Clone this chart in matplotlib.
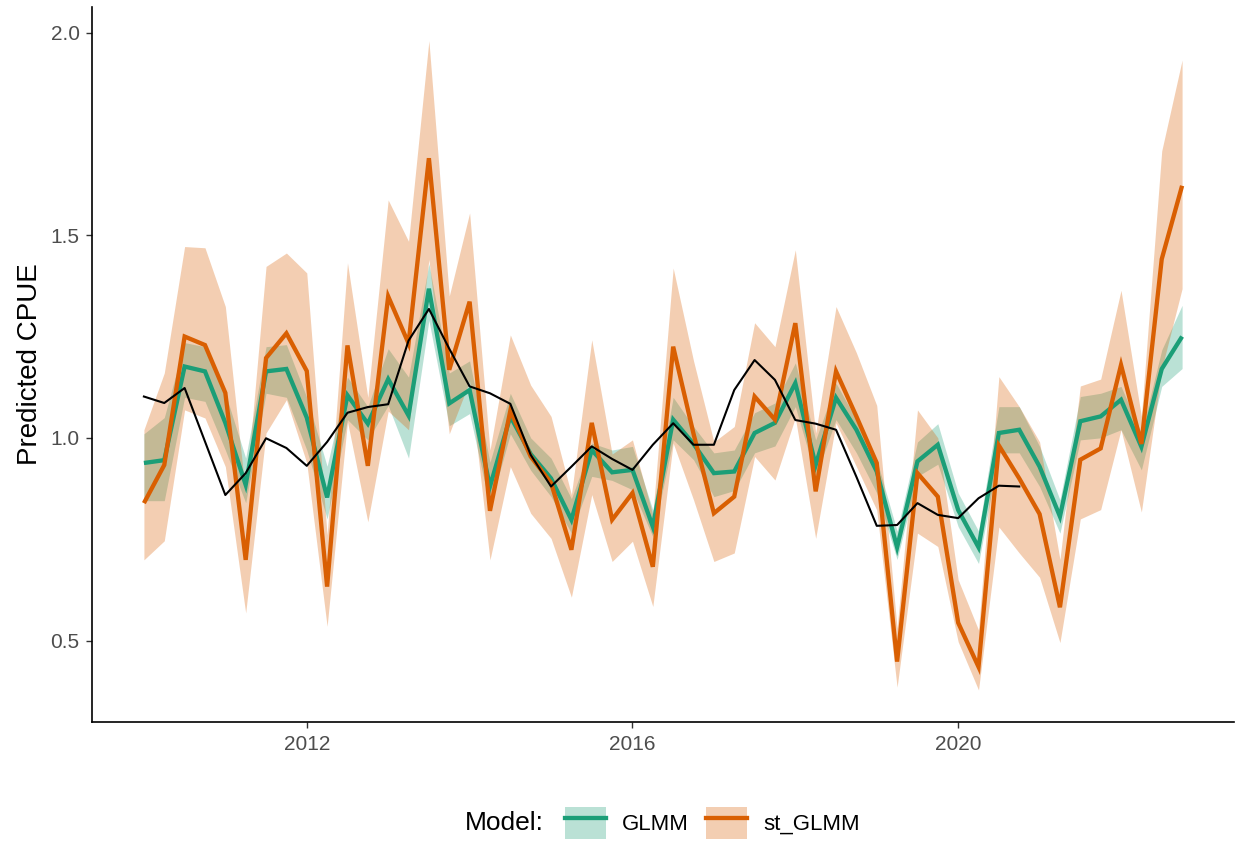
import numpy as np
import matplotlib
matplotlib.use("Agg")
import matplotlib.pyplot as plt
from matplotlib.patches import Patch
from matplotlib.lines import Line2D

plt.rcParams['font.family'] = ['Liberation Sans', 'DejaVu Sans']

# quarterly time stamps 2010 Q1 .. 2022 Q4
years = 2010 + np.arange(52) / 4.0

glmm = [0.938, 0.945, 1.176, 1.164, 1.037, 0.884, 1.164, 1.170, 1.05, 0.853,
        1.105, 1.035, 1.145, 1.055, 1.368, 1.085, 1.118, 0.88, 1.053, 0.96,
        0.90, 0.798, 0.97, 0.915, 0.921, 0.781, 1.045, 0.985, 0.913, 0.917,
        1.012, 1.037, 1.135, 0.933, 1.099, 1.02, 0.917, 0.73, 0.942, 0.983,
        0.822, 0.73, 1.012, 1.02, 0.929, 0.806, 1.041, 1.053, 1.094, 0.978,
        1.17, 1.25]
glmm_lo = [0.845, 0.845, 1.10, 1.09, 0.97, 0.84, 1.11, 1.10, 0.97, 0.80,
           1.045, 0.995, 1.08, 0.95, 1.29, 1.03, 1.06, 0.83, 1.01, 0.92,
           0.855, 0.765, 0.905, 0.895, 0.872, 0.756, 0.995, 0.946, 0.855, 0.87,
           0.963, 0.98, 1.077, 0.905, 1.045, 0.963, 0.864, 0.70, 0.905, 0.935,
           0.781, 0.69, 0.963, 0.963, 0.88, 0.765, 0.995, 1.00, 1.02, 0.921,
           1.127, 1.171]
glmm_hi = [1.01, 1.05, 1.235, 1.225, 1.11, 0.95, 1.225, 1.23, 1.10, 0.93,
           1.15, 1.077, 1.22, 1.15, 1.43, 1.16, 1.19, 0.94, 1.11, 1.00,
           0.95, 0.85, 0.987, 0.97, 0.979, 0.822, 1.10, 1.028, 0.963, 0.97,
           1.062, 1.086, 1.185, 0.995, 1.135, 1.045, 0.946, 0.77, 0.99, 1.035,
           0.864, 0.77, 1.077, 1.077, 0.979, 0.847, 1.102, 1.11, 1.127, 1.012,
           1.217, 1.327]

st_glmm = [0.839, 0.933, 1.25, 1.229, 1.111, 0.699, 1.197, 1.258, 1.165, 0.633,
           1.228, 0.931, 1.349, 1.233, 1.69, 1.168, 1.336, 0.82, 1.067, 0.954,
           0.889, 0.724, 1.037, 0.798, 0.864, 0.682, 1.225, 1.01, 0.814, 0.855,
           1.102, 1.045, 1.283, 0.868, 1.164, 1.053, 0.938, 0.448, 0.913, 0.855,
           0.544, 0.435, 0.981, 0.90, 0.812, 0.582, 0.946, 0.974, 1.18, 0.985,
           1.441, 1.622]
st_lo = [0.699, 0.746, 1.069, 1.049, 0.929, 0.568, 1.012, 1.094, 0.938, 0.535,
         1.04, 0.793, 1.066, 1.02, 1.44, 1.01, 1.14, 0.699, 0.929, 0.814,
         0.752, 0.607, 0.86, 0.695, 0.745, 0.584, 0.987, 0.847, 0.695, 0.716,
         0.954, 0.896, 1.05, 0.752, 1.037, 0.929, 0.822, 0.385, 0.765, 0.732,
         0.497, 0.378, 0.78, 0.716, 0.656, 0.495, 0.80, 0.823, 1.02, 0.817,
         1.17, 1.368]
st_hi = [1.02, 1.16, 1.472, 1.469, 1.324, 0.86, 1.423, 1.456, 1.407, 0.76,
         1.432, 1.10, 1.587, 1.485, 1.98, 1.35, 1.555, 0.97, 1.254, 1.13,
         1.053, 0.86, 1.242, 0.96, 0.995, 0.81, 1.419, 1.19, 0.99, 1.028,
         1.284, 1.225, 1.464, 1.012, 1.324, 1.21, 1.08, 0.53, 1.069, 1.0,
         0.65, 0.526, 1.151, 1.077, 0.99, 0.70, 1.128, 1.145, 1.364, 1.053,
         1.708, 1.932]

observed = [1.102, 1.086, 1.123, 0.991, 0.859, 0.913, 0.999, 0.975, 0.931, 0.99,
            1.062, 1.076, 1.083, 1.24, 1.318, 1.22, 1.127, 1.11, 1.084, 0.958,
            0.88, 0.929, 0.979, 0.948, 0.921, 0.983, 1.036, 0.983, 0.983, 1.118,
            1.192, 1.143, 1.044, 1.035, 1.02, 0.904, 0.783, 0.785, 0.839, 0.81,
            0.802, 0.851, 0.882, 0.88]
obs_years = years[:len(observed)]

model_names = ["GLMM", "st_GLMM"]
colors = ["#1B9E77", "#D95F02"]
x_ticks = [2012, 2016, 2020]
y_ticks = [0.5, 1.0, 1.5, 2.0]

fig = plt.figure(figsize=(12.38, 8.43), dpi=100)
ax = fig.add_axes([92 / 1238, 121 / 843, (1234 - 92) / 1238, (836 - 121) / 843])

ribbons = [(glmm_lo, glmm_hi), (st_lo, st_hi)]
lines = [glmm, st_glmm]
for (lo, hi), c in zip(ribbons, colors):
    ax.fill_between(years, lo, hi, color=c, alpha=0.3, linewidth=0)
for vals, c in zip(lines, colors):
    ax.plot(years, vals, color=c, lw=3.1, solid_joinstyle='miter', solid_capstyle='butt')
ax.plot(obs_years, observed, color='black', lw=1.5)

ax.set_xlim(years[0] - 0.05 * (years[-1] - years[0]), years[-1] + 0.05 * (years[-1] - years[0]))
ax.set_ylim(0.299, 2.063)
ax.set_xticks(x_ticks)
ax.set_xticklabels([str(t) for t in x_ticks])
ax.set_yticks(y_ticks)
ax.set_yticklabels([f"{t:.1f}" for t in y_ticks])

for s in ['top', 'right']:
    ax.spines[s].set_visible(False)
for s in ['left', 'bottom']:
    ax.spines[s].set_linewidth(1.2)
    ax.spines[s].set_color('black')
ax.tick_params(axis='both', length=4, width=1.0, color='#333333',
               labelsize=15, labelcolor='#4D4D4D', pad=5)
ax.set_ylabel("Predicted CPUE", fontsize=20, color='black', labelpad=5)

handles = [(Patch(facecolor=c, alpha=0.3, edgecolor='none'),
            Line2D([], [], color=c, lw=3.1)) for c in colors]
fig.text(465 / 1238, 20 / 843, "Model:", fontsize=19, ha='left', va='center')
fig.legend(handles, model_names, loc='center left',
           bbox_to_anchor=(565 / 1238, 20 / 843), ncol=2, frameon=False,
           fontsize=16, handlelength=1.85, handleheight=1.9,
           handletextpad=0.7, columnspacing=0.8, borderpad=0, borderaxespad=0)

fig.savefig("out.png", dpi=100)
